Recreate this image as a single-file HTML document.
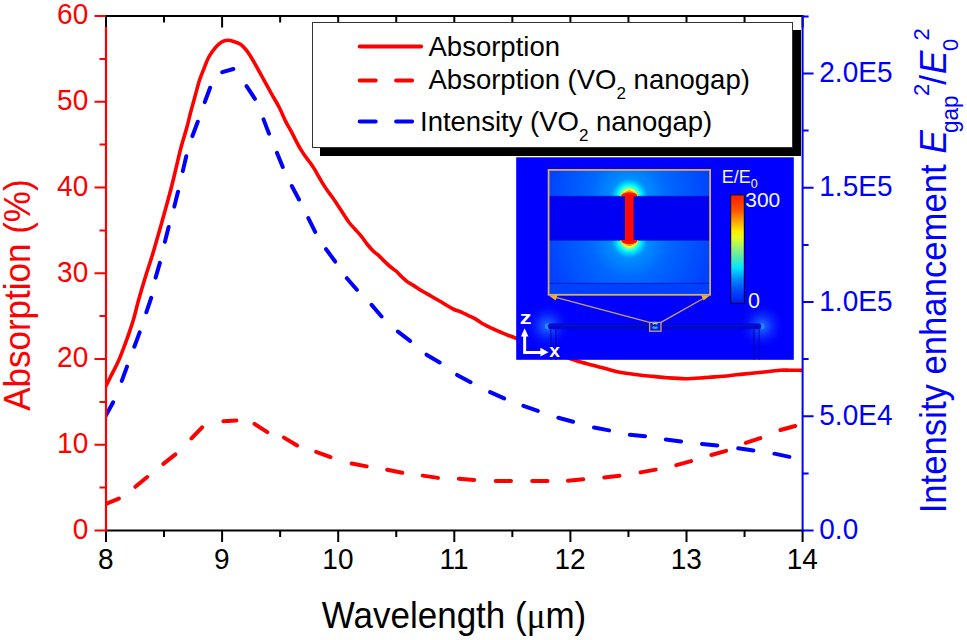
<!DOCTYPE html><html><head><meta charset="utf-8"><style>html,body{margin:0;padding:0;background:#fff;}svg{display:block;font-family:"Liberation Sans",sans-serif;}</style></head><body>
<svg width="967" height="640" viewBox="0 0 967 640">
<rect width="967" height="640" fill="#fff"/>
<defs><clipPath id="pc"><rect x="106.0" y="16.0" width="696.6" height="514.5"/></clipPath></defs>
<g clip-path="url(#pc)" fill="none">
<path d="M105.50,386.40 C105.72,386.05 105.65,386.52 106.80,384.30 C107.95,382.08 110.52,376.85 112.40,373.10 C114.28,369.35 116.22,366.02 118.10,361.80 C119.98,357.58 121.83,352.72 123.70,347.80 C125.57,342.88 127.55,337.45 129.30,332.30 C131.05,327.15 132.65,322.28 134.20,316.90 C135.75,311.52 136.63,306.98 138.60,300.00 C140.57,293.02 143.45,283.33 146.00,275.00 C148.55,266.67 150.23,262.50 153.90,250.00 C157.57,237.50 164.60,212.42 168.00,200.00 C171.40,187.58 172.13,184.25 174.30,175.50 C176.47,166.75 178.93,155.40 181.00,147.50 C183.07,139.60 185.10,133.93 186.70,128.10 C188.30,122.27 189.17,117.97 190.60,112.50 C192.03,107.03 193.83,100.63 195.30,95.30 C196.77,89.97 197.97,84.92 199.40,80.50 C200.83,76.08 202.33,72.67 203.90,68.75 C205.47,64.83 206.85,60.56 208.80,57.00 C210.75,53.44 213.52,49.87 215.60,47.40 C217.68,44.93 219.27,43.38 221.30,42.20 C223.33,41.02 225.62,40.38 227.80,40.30 C229.98,40.22 232.37,41.07 234.40,41.70 C236.43,42.33 238.28,43.00 240.00,44.10 C241.72,45.20 243.13,46.58 244.70,48.30 C246.27,50.02 247.68,51.82 249.40,54.40 C251.12,56.98 252.90,60.12 255.00,63.80 C257.10,67.48 259.35,71.67 262.00,76.50 C264.65,81.33 268.00,87.53 270.90,92.75 C273.80,97.97 276.90,102.94 279.40,107.80 C281.90,112.66 283.95,118.02 285.90,121.90 C287.85,125.78 289.50,128.12 291.10,131.10 C292.70,134.08 293.87,136.70 295.50,139.80 C297.13,142.90 299.27,146.95 300.90,149.70 C302.53,152.45 303.75,154.12 305.30,156.30 C306.85,158.48 308.65,160.62 310.20,162.80 C311.75,164.98 313.23,167.20 314.60,169.40 C315.97,171.60 317.03,173.63 318.40,176.00 C319.77,178.37 321.33,181.23 322.80,183.60 C324.27,185.97 325.55,187.83 327.20,190.20 C328.85,192.57 330.75,195.02 332.70,197.80 C334.65,200.58 336.95,203.95 338.90,206.90 C340.85,209.85 342.70,212.90 344.40,215.50 C346.10,218.10 347.28,220.17 349.10,222.50 C350.92,224.83 353.22,227.15 355.30,229.50 C357.38,231.85 359.52,234.02 361.60,236.60 C363.68,239.18 365.73,242.47 367.80,245.00 C369.87,247.53 372.18,250.03 374.00,251.80 C375.82,253.57 376.92,253.92 378.75,255.60 C380.58,257.28 382.92,259.92 385.00,261.90 C387.08,263.88 389.38,265.94 391.25,267.50 C393.12,269.06 394.38,269.58 396.25,271.25 C398.12,272.92 400.62,275.73 402.50,277.50 C404.38,279.27 405.62,280.55 407.50,281.90 C409.38,283.25 411.25,284.04 413.75,285.60 C416.25,287.16 419.58,289.48 422.50,291.25 C425.42,293.02 428.33,294.57 431.25,296.25 C434.17,297.93 437.44,299.81 440.00,301.30 C442.56,302.79 444.23,303.83 446.60,305.20 C448.97,306.57 451.65,308.32 454.20,309.50 C456.75,310.68 459.52,311.28 461.90,312.30 C464.28,313.32 466.13,314.42 468.50,315.60 C470.87,316.78 473.55,317.95 476.10,319.40 C478.65,320.85 481.25,322.83 483.80,324.30 C486.35,325.77 488.67,326.92 491.40,328.20 C494.13,329.48 497.45,330.82 500.20,332.00 C502.95,333.18 505.35,334.30 507.90,335.30 C510.45,336.30 509.32,335.72 515.50,338.00 C521.68,340.28 535.58,345.45 545.00,349.00 C554.42,352.55 566.05,357.13 572.00,359.30 C577.95,361.47 577.18,361.00 580.70,362.00 C584.22,363.00 588.97,364.20 593.10,365.30 C597.23,366.40 601.65,367.57 605.50,368.60 C609.35,369.63 612.75,370.73 616.20,371.50 C619.65,372.27 622.35,372.62 626.20,373.20 C630.05,373.78 634.78,374.47 639.30,375.00 C643.82,375.53 648.65,375.93 653.30,376.40 C657.95,376.87 661.77,377.42 667.20,377.80 C672.63,378.18 679.68,378.73 685.90,378.70 C692.12,378.67 699.65,377.90 704.50,377.60 C709.35,377.30 710.92,377.22 715.00,376.90 C719.08,376.58 724.35,376.17 729.00,375.70 C733.65,375.23 738.25,374.60 742.90,374.10 C747.55,373.60 752.23,373.17 756.90,372.70 C761.57,372.23 767.02,371.72 770.90,371.30 C774.78,370.88 777.02,370.38 780.20,370.20 C783.38,370.02 786.03,370.17 790.00,370.20 C793.97,370.23 801.67,370.37 804.00,370.40" stroke="#ff0000" stroke-width="3.6" stroke-linejoin="round" stroke-linecap="round"/>
<path d="M104.50,504.50 L118.85,498.56 M135.40,486.82 L147.20,477.08 M163.35,463.84 L175.40,454.41 M191.47,438.39 L202.13,427.41 M223.40,421.18 L236.40,420.42 M254.50,423.82 L267.30,432.18 M284.00,437.59 L297.10,445.51 M316.16,451.85 L330.54,457.05 M351.64,463.50 L366.66,466.40 M387.21,469.69 L402.19,472.81 M422.81,475.62 L437.94,477.88 M458.87,478.81 L474.13,479.94 M495.70,481.00 L511.00,481.00 M532.20,481.00 L547.50,481.00 M568.01,480.70 L583.24,479.30 M604.27,477.44 L619.48,475.81 M640.60,472.39 L655.65,469.61 M676.31,465.14 L691.09,461.16 M711.39,455.00 L726.11,450.80 M745.78,442.94 L760.32,438.16 M780.42,430.01 L795.18,425.99" stroke="#ff0000" stroke-width="4" stroke-linecap="round"/>
<path d="M105.30,416.60 L113.14,402.25 M121.80,380.94 L127.00,366.56 M134.34,346.72 L139.66,332.38 M146.30,312.30 L151.20,297.80 M155.62,277.60 L159.88,262.90 M164.90,241.82 L168.65,226.98 M174.29,206.62 L178.01,191.78 M182.79,171.13 L186.26,156.22 M192.44,136.07 L197.76,121.73 M204.79,102.07 L210.11,87.73 M222.23,72.16 L233.37,69.04 M246.55,86.10 L254.95,98.90 M263.53,119.35 L268.97,133.65 M276.96,152.77 L282.74,166.93 M291.78,186.00 L298.97,199.50 M308.33,218.16 L315.17,231.84 M326.09,249.21 L335.16,261.54 M346.87,278.22 L356.88,289.78 M371.61,304.83 L381.54,316.47 M397.94,331.59 L410.06,340.91 M426.53,354.68 L439.67,362.52 M457.11,374.93 L470.59,382.17 M490.15,392.17 L504.15,398.33 M523.41,405.82 L537.84,410.93 M558.33,417.71 L573.07,421.79 M594.04,427.44 L609.06,430.36 M629.84,434.77 L645.06,436.33 M665.86,439.58 L681.04,441.42 M701.99,443.94 L717.21,445.56 M738.22,448.35 L753.38,450.45 M774.42,453.66 L789.38,456.84" stroke="#0000ff" stroke-width="4" stroke-linecap="round"/>
</g>
<path d="M106.00,530.50 V542.00 M106.00,16.00 V27.50 M222.10,530.50 V542.00 M222.10,16.00 V27.50 M338.20,530.50 V542.00 M338.20,16.00 V27.50 M454.30,530.50 V542.00 M454.30,16.00 V27.50 M570.40,530.50 V542.00 M570.40,16.00 V27.50 M686.50,530.50 V542.00 M686.50,16.00 V27.50 M802.60,530.50 V542.00 M802.60,16.00 V27.50 M164.05,530.50 V537.00 M164.05,16.00 V22.50 M280.15,530.50 V537.00 M280.15,16.00 V22.50 M396.25,530.50 V537.00 M396.25,16.00 V22.50 M512.35,530.50 V537.00 M512.35,16.00 V22.50 M628.45,530.50 V537.00 M628.45,16.00 V22.50 M744.55,530.50 V537.00 M744.55,16.00 V22.50" stroke="#000" stroke-width="2" fill="none"/>
<path d="M105.00,530.50 H803.60" stroke="#000" stroke-width="2"/>
<path d="M105.00,16.00 H803.60" stroke="#000" stroke-width="2"/>
<path d="M106.00,530.50 H94.50 M106.00,444.75 H94.50 M106.00,359.00 H94.50 M106.00,273.25 H94.50 M106.00,187.50 H94.50 M106.00,101.75 H94.50 M106.00,16.00 H94.50 M106.00,487.62 H99.50 M106.00,401.88 H99.50 M106.00,316.12 H99.50 M106.00,230.38 H99.50 M106.00,144.62 H99.50 M106.00,58.88 H99.50" stroke="#ff0000" stroke-width="2" fill="none"/>
<path d="M106.00,27.00 V531.50" stroke="#ff0000" stroke-width="2.2"/>
<path d="M802.60,530.50 H813.60 M802.60,416.25 H813.60 M802.60,302.00 H813.60 M802.60,187.75 H813.60 M802.60,73.50 H813.60 M802.60,473.38 H808.60 M802.60,359.12 H808.60 M802.60,244.88 H808.60 M802.60,130.62 H808.60 M802.60,16.38 H808.60" stroke="#0000ff" stroke-width="2" fill="none"/>
<path d="M802.60,15.00 V531.50" stroke="#0000ff" stroke-width="2"/>
<text transform="translate(88.2,538.90) scale(1,1.045)" font-size="28" fill="#ff0000" text-anchor="end">0</text>
<text transform="translate(88.2,453.15) scale(1,1.045)" font-size="28" fill="#ff0000" text-anchor="end">10</text>
<text transform="translate(88.2,367.40) scale(1,1.045)" font-size="28" fill="#ff0000" text-anchor="end">20</text>
<text transform="translate(88.2,281.65) scale(1,1.045)" font-size="28" fill="#ff0000" text-anchor="end">30</text>
<text transform="translate(88.2,195.90) scale(1,1.045)" font-size="28" fill="#ff0000" text-anchor="end">40</text>
<text transform="translate(88.2,110.15) scale(1,1.045)" font-size="28" fill="#ff0000" text-anchor="end">50</text>
<text transform="translate(88.2,24.40) scale(1,1.045)" font-size="28" fill="#ff0000" text-anchor="end">60</text>
<text transform="translate(105.70,569.2) scale(1,1.045)" font-size="28" fill="#000" text-anchor="middle">8</text>
<text transform="translate(221.80,569.2) scale(1,1.045)" font-size="28" fill="#000" text-anchor="middle">9</text>
<text transform="translate(337.90,569.2) scale(1,1.045)" font-size="28" fill="#000" text-anchor="middle">10</text>
<text transform="translate(454.00,569.2) scale(1,1.045)" font-size="28" fill="#000" text-anchor="middle">11</text>
<text transform="translate(570.10,569.2) scale(1,1.045)" font-size="28" fill="#000" text-anchor="middle">12</text>
<text transform="translate(686.20,569.2) scale(1,1.045)" font-size="28" fill="#000" text-anchor="middle">13</text>
<text transform="translate(802.30,569.2) scale(1,1.045)" font-size="28" fill="#000" text-anchor="middle">14</text>
<text transform="translate(819.3,539.00) scale(1,1.045)" font-size="28" fill="#0000ff">0.0</text>
<text transform="translate(819.3,424.75) scale(1,1.045)" font-size="28" fill="#0000ff">5.0E4</text>
<text transform="translate(819.3,310.50) scale(1,1.045)" font-size="28" fill="#0000ff">1.0E5</text>
<text transform="translate(819.3,196.25) scale(1,1.045)" font-size="28" fill="#0000ff">1.5E5</text>
<text transform="translate(819.3,82.00) scale(1,1.045)" font-size="28" fill="#0000ff">2.0E5</text>
<text transform="translate(321.8,627.7) scale(1,1.05)" font-size="35" fill="#000">Wavelength (<tspan font-family="Liberation Serif">&#956;</tspan>m)</text>
<text transform="translate(30.2,410.8) rotate(-90) scale(1,1.05)" font-size="35" fill="#ff0000">Absorption (%)</text>
<text transform="translate(946.2,513.3) rotate(-90) scale(1,1.045)" font-size="34.7" fill="#0000ff"><tspan x="0" y="0">Intensity enhancement</tspan><tspan x="359.8" y="0" font-style="italic" font-size="35">E</tspan><tspan x="380.4" y="11.2" font-size="22.5">gap</tspan><tspan x="417.3" y="-16.4" font-size="22">2</tspan><tspan x="428.6" y="0">/</tspan><tspan x="439.3" y="0" font-style="italic" font-size="35">E</tspan><tspan x="462.3" y="11.6" font-size="22">0</tspan><tspan x="472.9" y="-16.4" font-size="22">2</tspan></text>
<rect x="320" y="30" width="481" height="126" fill="#000"/>
<rect x="312.5" y="22.5" width="480" height="125" fill="#fff" stroke="#333" stroke-width="1"/>
<path d="M359.7,46.5 H421.1" stroke="#ff0000" stroke-width="4" stroke-linecap="round"/>
<path d="M359.7,80.4 H421.1" stroke="#ff0000" stroke-width="4" stroke-linecap="round" stroke-dasharray="16 20.4"/>
<path d="M359.7,121.5 H421.1" stroke="#0000ff" stroke-width="4" stroke-linecap="round" stroke-dasharray="16 20.4"/>
<text x="428.5" y="55.6" font-size="27.5" fill="#000">Absorption</text>
<text x="428.5" y="88.9" font-size="27.5" fill="#000">Absorption (VO<tspan font-size="17" dy="10.3">2</tspan><tspan dy="-10.3"> nanogap)</tspan></text>
<text x="420" y="131" font-size="27.5" fill="#000">Intensity (VO<tspan font-size="17" dy="10.3">2</tspan><tspan dy="-10.3"> nanogap)</tspan></text>
<defs><radialGradient id="gtop" cx="629.3" cy="196.3" r="19" gradientUnits="userSpaceOnUse"><stop offset="0" stop-color="#ff1000"/><stop offset="0.25" stop-color="#ff2000"/><stop offset="0.29" stop-color="#ff9000"/><stop offset="0.33" stop-color="#ffff20"/><stop offset="0.41" stop-color="#a0ff80"/><stop offset="0.5" stop-color="#40ffd0"/><stop offset="0.62" stop-color="#00f0ff"/><stop offset="0.8" stop-color="#00c8ff" stop-opacity="0.7"/><stop offset="1" stop-color="#0090ff" stop-opacity="0"/></radialGradient><radialGradient id="gbot" cx="629.3" cy="240.2" r="19" gradientUnits="userSpaceOnUse"><stop offset="0" stop-color="#ff1000"/><stop offset="0.25" stop-color="#ff2000"/><stop offset="0.29" stop-color="#ff9000"/><stop offset="0.33" stop-color="#ffff20"/><stop offset="0.41" stop-color="#a0ff80"/><stop offset="0.5" stop-color="#40ffd0"/><stop offset="0.62" stop-color="#00f0ff"/><stop offset="0.8" stop-color="#00c8ff" stop-opacity="0.7"/><stop offset="1" stop-color="#0090ff" stop-opacity="0"/></radialGradient><radialGradient id="btop" cx="629.3" cy="196.3" r="85" gradientUnits="userSpaceOnUse"><stop offset="0" stop-color="#00b0ff"/><stop offset="0.2" stop-color="#0090ff"/><stop offset="0.45" stop-color="#0068ff"/><stop offset="1" stop-color="#0040ff"/></radialGradient><radialGradient id="bbot" cx="629.3" cy="240.2" r="85" gradientUnits="userSpaceOnUse"><stop offset="0" stop-color="#00b0ff"/><stop offset="0.2" stop-color="#0090ff"/><stop offset="0.45" stop-color="#0068ff"/><stop offset="1" stop-color="#0040ff"/></radialGradient><linearGradient id="jet" x1="0" y1="0" x2="0" y2="1"><stop offset="0" stop-color="#ff1a00"/><stop offset="0.14" stop-color="#ff5000"/><stop offset="0.24" stop-color="#ffa000"/><stop offset="0.34" stop-color="#ffee00"/><stop offset="0.40" stop-color="#e0ff20"/><stop offset="0.5" stop-color="#90f080"/><stop offset="0.6" stop-color="#40e8c0"/><stop offset="0.67" stop-color="#00e8ff"/><stop offset="0.77" stop-color="#0090ff"/><stop offset="0.87" stop-color="#0050ff"/><stop offset="1" stop-color="#0018ff"/></linearGradient><clipPath id="ctop"><rect x="548.6" y="169.9" width="161.5" height="26.4"/></clipPath><clipPath id="cbot"><rect x="548.6" y="240.2" width="161.5" height="43.2"/></clipPath><radialGradient id="halo" cx="547.5" cy="326" r="24" gradientUnits="userSpaceOnUse"><stop offset="0" stop-color="#2070ff"/><stop offset="0.3" stop-color="#1858ff" stop-opacity="0.7"/><stop offset="1" stop-color="#0000fa" stop-opacity="0"/></radialGradient><radialGradient id="haloR" cx="762" cy="326" r="24" gradientUnits="userSpaceOnUse"><stop offset="0" stop-color="#2070ff"/><stop offset="0.3" stop-color="#1858ff" stop-opacity="0.7"/><stop offset="1" stop-color="#0000fa" stop-opacity="0"/></radialGradient></defs>
<rect x="516.2" y="157.3" width="277.6" height="202.5" fill="#0000fe"/>
<clipPath id="cin"><rect x="516.2" y="157.3" width="277.6" height="202.5"/></clipPath>
<g clip-path="url(#cin)">
<circle cx="547.5" cy="326" r="24" fill="url(#halo)"/><circle cx="762" cy="326" r="24" fill="url(#haloR)"/>
<circle cx="547.8" cy="326.4" r="2.8" fill="#30b0ff" opacity="0.6"/><circle cx="761.7" cy="326.4" r="2.8" fill="#30b0ff" opacity="0.5"/>
<rect x="548.1" y="323.5" width="213" height="5.7" rx="2.5" fill="#0008c8"/>
<path d="M547.6,325.6 H761.5" stroke="#0010e0" stroke-width="1"/>
<path d="M550.8,329.3 V360 M555.9,329.3 V360 M753.9,329.3 V360 M759.2,329.3 V360" stroke="#0006a0" stroke-width="1"/>
</g>
<rect x="649.6" y="322.4" width="11.4" height="8.8" fill="#0018f0"/>
<ellipse cx="655" cy="323.2" rx="2.8" ry="1.5" fill="#60e8c0"/>
<ellipse cx="655" cy="327.6" rx="2.8" ry="1.5" fill="#20b0ff"/>
<rect x="654.2" y="324.2" width="1.6" height="2.4" fill="#600020"/>
<rect x="649.6" y="322.4" width="11.4" height="8.8" fill="none" stroke="#c8a070" stroke-width="1.3"/>
<rect x="548.6" y="169.9" width="161.5" height="26.4" fill="url(#btop)"/>
<rect x="548.6" y="196.3" width="161.5" height="43.9" fill="#0000f2"/>
<rect x="548.6" y="240.2" width="161.5" height="43.2" fill="url(#bbot)"/>
<rect x="548.6" y="283.4" width="161.5" height="11.4" fill="#0040ff"/>
<circle cx="629.3" cy="196.3" r="19" fill="url(#gtop)" clip-path="url(#ctop)"/>
<circle cx="629.3" cy="240.2" r="19" fill="url(#gbot)" clip-path="url(#cbot)"/>
<path d="M548.6,196.3 H710.1 M548.6,240.2 H710.1 M548.6,283.4 H710.1" stroke="#0018c8" stroke-width="0.9"/>
<ellipse cx="629.3" cy="196.3" rx="8.6" ry="4.6" fill="#ff1000" stroke="#ffd000" stroke-width="1" clip-path="url(#ctop)"/>
<ellipse cx="629.3" cy="240.2" rx="8.6" ry="4.6" fill="#ff1000" stroke="#ffd000" stroke-width="1" clip-path="url(#cbot)"/>
<rect x="625" y="195.8" width="8.6" height="44.9" fill="#ff0a00"/>
<rect x="548.6" y="169.9" width="161.5" height="124.9" fill="none" stroke="#d8ac62" stroke-width="1.8"/>
<path d="M649.6,322.4 L553,296.6 M661,322.4 L705.5,297.2" stroke="#c8a070" stroke-width="1.3" fill="none"/>
<path d="M548.8,295.6 L557.6,295.0 L555.6,300.4 z" fill="#f0b030"/>
<path d="M709.9,295.6 L701.2,295.2 L703.6,300.4 z" fill="#f0b030"/>
<rect x="730.6" y="194.8" width="13.8" height="108.6" fill="url(#jet)" stroke="#000048" stroke-width="1.2"/>
<text x="721.8" y="183.4" font-size="18" fill="#f4f4ff">E/E<tspan font-size="12.5" dy="4.8">0</tspan></text>
<text transform="translate(745.3,206.8) scale(1.02,1.03)" font-size="20.5" fill="#f4f4ff">300</text>
<text x="748" y="307.6" font-size="21.5" fill="#f4f4ff">0</text>
<path d="M524.65,335 V352.5 H541" stroke="#fff" stroke-width="3" fill="none"/>
<path d="M524.65,328.2 L520.9,336.4 H528.4 z M548.6,352.2 L540.4,347.8 V356.6 z" fill="#fff"/>
<text transform="translate(519.7,324.3) scale(1.35,1.02)" font-size="17.5" font-weight="bold" fill="#fff">z</text>
<text transform="translate(549.3,356.6) scale(1.1,1)" font-size="17.5" font-weight="bold" fill="#fff">x</text>
</svg></body></html>
